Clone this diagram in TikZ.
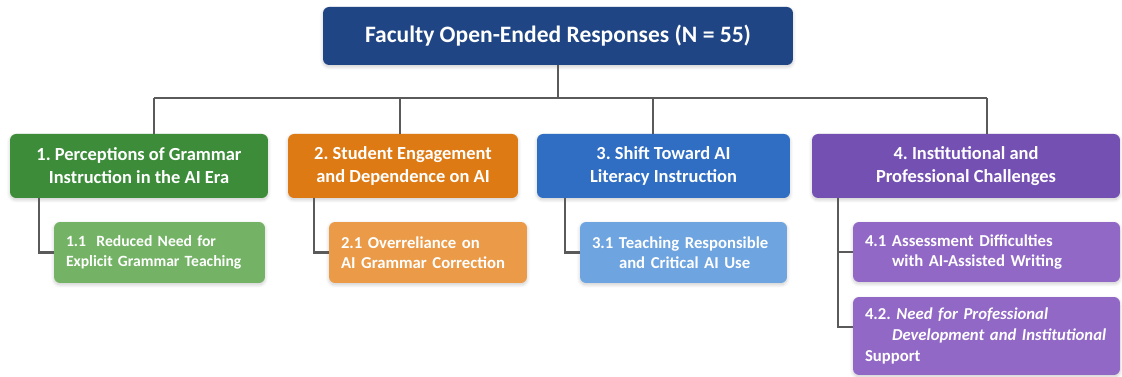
\documentclass[tikz,border=0pt]{standalone}
\usepackage{fontspec}
\setmainfont{Carlito}
\usetikzlibrary{positioning,shadows.blur}
\definecolor{rootblue}{HTML}{1F4584}
\definecolor{grn}{HTML}{3D8C3A}
\definecolor{org}{HTML}{DE7A14}
\definecolor{blu}{HTML}{2F6EC3}
\definecolor{pur}{HTML}{7450B3}
\definecolor{sgrn}{HTML}{74B365}
\definecolor{sorg}{HTML}{EB9A47}
\definecolor{sblu}{HTML}{6EA4DF}
\definecolor{spur}{HTML}{9168C5}
\definecolor{linkgray}{HTML}{5A5A5A}
\tikzset{
	box/.style={rectangle,rounded corners=3.5pt,text=white,inner sep=0pt,
		blur shadow={shadow blur steps=8,shadow xshift=0pt,shadow yshift=-1pt,shadow opacity=20}},
	root/.style={box,fill=rootblue,minimum width=9.4cm,minimum height=1.16cm,align=center,
		font=\bfseries\fontsize{13.4}{16}\selectfont},
	cat/.style={box,minimum height=1.28cm,align=center,font=\bfseries\fontsize{10.5}{13}\selectfont},
	sub/.style={box,minimum height=1.22cm,inner xsep=0.24cm,align=left,font=\bfseries\fontsize{9.5}{11.6}\selectfont},
	link/.style={draw=linkgray,line width=1.2pt}
}
\newcommand{\ind}{\hspace*{0.54cm}}
\frenchspacing

\begin{document}
\begin{tikzpicture}[x=0.02cm,y=-0.02cm]
    \useasboundingbox (0,0) rectangle (1122,377);
    % top node
    \node (root) [root] at (558,36) {Faculty Open-Ended Responses (N = 55)};
    % themes
    \node (g1) [cat,fill=grn,minimum width=5.16cm] at (139,166) {1. Perceptions of Grammar\\Instruction in the AI Era};
    \node (o2) [cat,fill=org,minimum width=4.6cm] at (403,166) {2. Student Engagement\\and Dependence on AI};
    \node (b3) [cat,fill=blu,minimum width=5.06cm] at (663.5,166) {3. Shift Toward AI\\Literacy Instruction};
    \node (p4) [cat,fill=pur,minimum width=6.16cm] at (966,166) {4. Institutional and\\Professional Challenges};
    % subthemes
    \node (s11) [sub,fill=sgrn,text width=3.74cm,font=\bfseries\fontsize{8.9}{11}\selectfont] at (159.5,252.5) {1.1\ \ Reduced Need for\\Explicit Grammar Teaching};
    \node (s21) [sub,fill=sorg,text width=3.48cm] at (428,252.5) {2.1\ Overreliance on\\AI Grammar Correction};
    \node (s31) [sub,fill=sblu,text width=3.66cm] at (683.5,252.5) {3.1\ Teaching Responsible\\\ind and Critical AI Use};
    \node (s41) [sub,fill=spur,text width=4.86cm,minimum height=1.2cm] at (986.5,252) {4.1\ Assessment Difficulties\\\ind with AI-Assisted Writing};
    \node (s42) [sub,fill=spur,text width=4.86cm,minimum height=1.56cm,font=\bfseries\fontsize{9.5}{12}\selectfont] at (986.5,336) {4.2. \textit{Need for Professional}\\\ind\textit{Development and Institutional}\\Support};

    % connectors
    \coordinate (busL) at (154,98);
    \coordinate (busR) at (987,98);
    \draw[link] (root.south) -- (root.south |- busL);
    \draw[link] (busL) -- (busR);
    \foreach \n/\x in {g1/154,o2/400,b3/653,p4/987}
        \draw[link] (\x,98) -- (\x,0 |- \n.north);
    \foreach \p/\s/\x in {g1/s11/39,o2/s21/314,b3/s31/565,p4/s41/838}
        \draw[link] (\x,0 |- \p.south) |- (\s.west);
    \draw[link] (838,0 |- p4.south) |- ([yshift=0.18cm]s42.west);
\end{tikzpicture}
\end{document}
